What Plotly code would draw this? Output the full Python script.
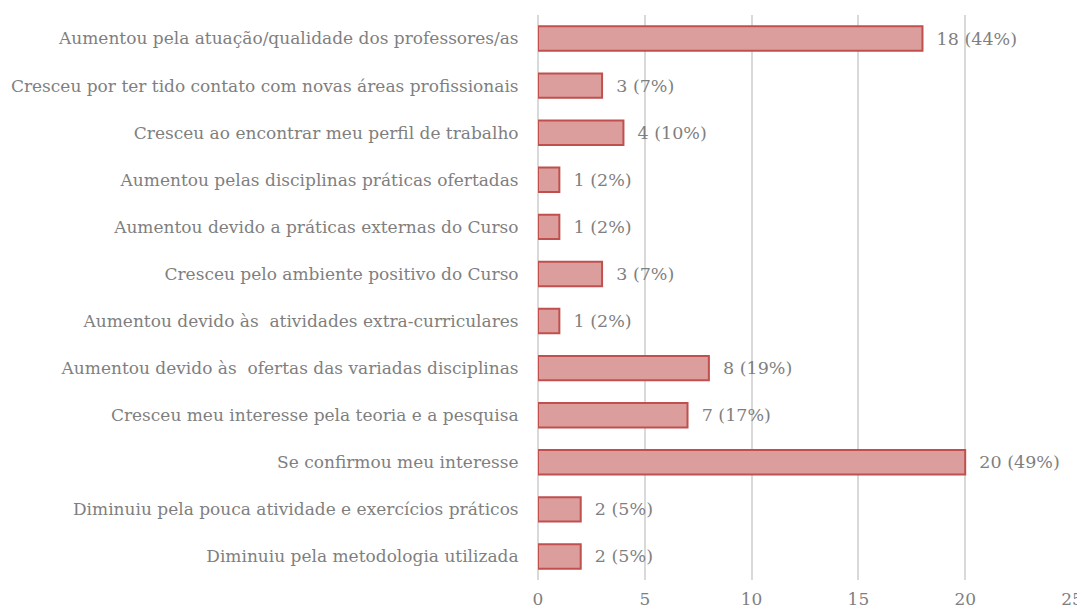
import plotly.graph_objects as go

categories = [
    "Aumentou pela atuação/qualidade dos professores/as",
    "Cresceu por ter tido contato com novas áreas profissionais",
    "Cresceu ao encontrar meu perfil de trabalho",
    "Aumentou pelas disciplinas práticas ofertadas",
    "Aumentou devido a práticas externas do Curso",
    "Cresceu pelo ambiente positivo do Curso",
    "Aumentou devido às  atividades extra-curriculares",
    "Aumentou devido às  ofertas das variadas disciplinas",
    "Cresceu meu interesse pela teoria e a pesquisa",
    "Se confirmou meu interesse",
    "Diminuiu pela pouca atividade e exercícios práticos",
    "Diminuiu pela metodologia utilizada",
]
counts = [18, 3, 4, 1, 1, 3, 1, 8, 7, 20, 2, 2]
percents = [44, 7, 10, 2, 2, 7, 2, 19, 17, 49, 5, 5]
labels = [f"  {c} ({p}%)" for c, p in zip(counts, percents)]
xticks = [0, 5, 10, 15, 20, 25]

font_family = "DejaVu Serif"
gray = "#7f7f7f"

fig = go.Figure(go.Bar(
    y=categories,
    x=counts,
    orientation="h",
    text=labels,
    textposition="outside",
    cliponaxis=False,
    textfont=dict(family=font_family, size=17.5, color=gray),
    marker=dict(color="#dc9d9d", line=dict(color="#c0504d", width=2)),
    width=0.52,
))

# page body has an 8px default margin, so the figure is offset by 8px
fig.update_layout(
    width=1077, height=605,
    margin=dict(l=530, r=13, t=7, b=33),
    plot_bgcolor="white", paper_bgcolor="white",
    showlegend=False,
    font=dict(family=font_family, size=17, color=gray),
)
fig.update_xaxes(
    range=[0, 25], tickvals=xticks, showgrid=True, gridcolor="#d9d9d9", gridwidth=1.5,
    zeroline=True, zerolinecolor="#d9d9d9", zerolinewidth=1.5,
    ticks="outside", ticklen=4, tickcolor="rgba(0,0,0,0)",
    tickfont=dict(family=font_family, size=17, color=gray), showline=False,
    automargin=False,
)
fig.update_yaxes(
    autorange="reversed", showgrid=False, ticks="outside", ticklen=15,
    tickcolor="rgba(0,0,0,0)", tickfont=dict(family=font_family, size=17, color=gray),
    automargin=False,
)

fig.write_html("out.html")
